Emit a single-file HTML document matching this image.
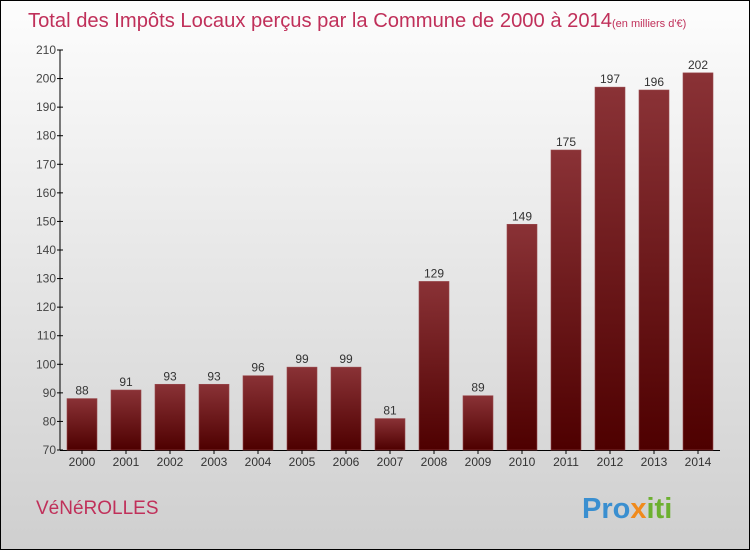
<!DOCTYPE html>
<html><head><meta charset="utf-8"><style>
body{margin:0;}
#frame{position:relative;width:748px;height:548px;border:1px solid #000;background:linear-gradient(#fdfdfd,#cfcfcf);font-family:"Liberation Sans",sans-serif;overflow:hidden}
</style></head><body>
<div id="frame">
<svg width="750" height="550" style="position:absolute;left:-1px;top:-1px">
<defs><linearGradient id="bg" x1="0" y1="0" x2="0" y2="1"><stop offset="0" stop-color="#8a3236"/><stop offset="1" stop-color="#4e0000"/></linearGradient></defs>
<text x="28" y="27" font-size="20" fill="#c0305a"><tspan textLength="584" lengthAdjust="spacingAndGlyphs">Total des Impôts Locaux perçus par la Commune de 2000 à 2014</tspan><tspan font-size="11">(en milliers d'€)</tspan></text>
<g id="yax"></g>
<g id="bars"></g>
<text x="36" y="514" font-size="19" fill="#c0305a">VéNéROLLES</text>
<text x="582" y="518" font-size="29" font-weight="bold"><tspan fill="#3a8fd0">Pro</tspan><tspan fill="#f08a1c">x</tspan><tspan fill="#6cb030">iti</tspan></text>
</svg>
</div>
<script>
const years=["2000","2001","2002","2003","2004","2005","2006","2007","2008","2009","2010","2011","2012","2013","2014"];
const values=[88,91,93,93,96,99,99,81,129,89,149,175,197,196,202];
const ticks=[70,80,90,100,110,120,130,140,150,160,170,180,190,200,210];
const NS="http://www.w3.org/2000/svg";
const y0=450,y1=50,vmin=70,vmax=210;
const yS=v=>y0-(v-vmin)*(y0-y1)/(vmax-vmin);
const xS=i=>82+i*44;
function mk(t,a,p){const e=document.createElementNS(NS,t);for(const k in a)e.setAttribute(k,a[k]);p.appendChild(e);return e;}
const ya=document.getElementById('yax'),bg=document.getElementById('bars');
const ax=mk('line',{x1:60,y1:y1,x2:60,y2:y0,stroke:'#000'},ya);


const xl=mk('line',{x1:60,y1:y0+0.5,x2:720,y2:y0+0.5,stroke:'#000'},ya);


ticks.forEach(t=>{
 const l=mk('line',{x1:57,x2:63,y1:yS(t),y2:yS(t),stroke:'#000'},ya);
 
 
 const tx=mk('text',{x:56,y:yS(t)+4,'text-anchor':'end','font-size':12,fill:'#444'},ya);
 tx.textContent=t;
 
 
});
values.forEach((v,i)=>{
 const r=mk('rect',{x:xS(i)-15,y:yS(v),width:30,height:y0-yS(v),fill:'url(#bg)',stroke:'#9a4a4e','stroke-width':0.6},bg);
 
 
 const vl=mk('text',{x:xS(i),y:yS(v)-4,'text-anchor':'middle','font-size':12,fill:'#333'},bg);
 vl.textContent=v;
 
 
 const tk=mk('line',{x1:xS(i),x2:xS(i),y1:y0,y2:y0+4,stroke:'#000'},bg);
 
 
 const xl=mk('text',{x:xS(i),y:y0+16,'text-anchor':'middle','font-size':12,fill:'#333'},bg);
 xl.textContent=years[i];
 
 
});
</script>
</body></html>
